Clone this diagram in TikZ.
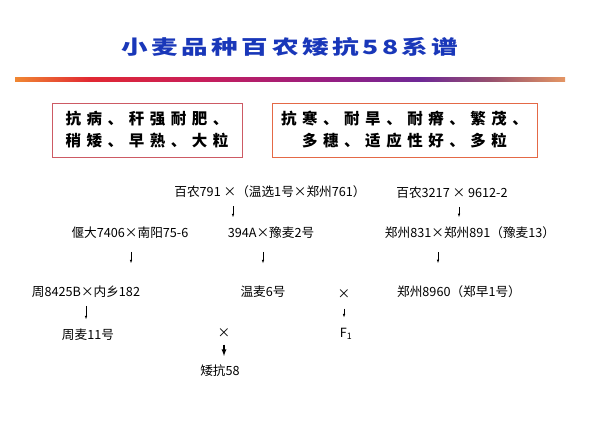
\documentclass[tikz,border=0pt]{standalone}
\usepackage{fontspec}
\setmainfont{Noto Sans CJK SC}
\newfontfamily\titlefont[FakeStretch=1.35,LetterSpace=18]{Noto Sans CJK SC}
\newfontfamily\boxfont[LetterSpace=36]{Noto Sans CJK SC}
\usepackage{tikz}
\usetikzlibrary{positioning}
\definecolor{titleblue}{RGB}{25,55,185}
\definecolor{boxred}{RGB}{205,90,100}
\definecolor{boxorange}{RGB}{228,105,70}
\definecolor{barA}{RGB}{240,135,50}
\definecolor{barB}{RGB}{225,40,50}
\definecolor{barC}{RGB}{200,30,90}
\definecolor{barD}{RGB}{150,30,130}
\definecolor{barE}{RGB}{110,40,150}
\definecolor{barF}{RGB}{150,80,110}
\definecolor{barG}{RGB}{228,150,100}
\pgfdeclarehorizontalshading{titlebar}{100bp}{color(0bp)=(barA); color(25bp)=(barA); color(31.8bp)=(barB); color(41.8bp)=(barC); color(53.6bp)=(barD); color(61.8bp)=(barE); color(68.2bp)=(barF); color(75bp)=(barG); color(100bp)=(barG)}
\tikzset{cult/.style={inner sep=0pt,font=\fontsize{18pt}{20pt}\selectfont},
trait/.style={draw,line width=1pt,inner sep=0pt,font=\boxfont\bfseries\fontsize{22pt}{31.3pt}\selectfont,align=center,minimum height=2.7cm},
descent/.style={-latex,line width=0.6pt,shorten <=0.4cm,shorten >=0.5cm},
descent long/.style={descent,shorten <=0.65cm,shorten >=1.15cm}}

\begin{document}
\begin{tikzpicture}
\useasboundingbox (0,0) rectangle (30,21.45);
\node[inner sep=0pt,text=titleblue,font=\titlefont\bfseries\fontsize{28pt}{30pt}\selectfont] (title) at (14.5,19.12) {小麦品种百农矮抗58系谱};
\shade[shading=titlebar] (0.75,17.35) rectangle (28.25,17.55);
\node[trait,draw=boxred,minimum width=9.5cm] (traitL) at (7.35,14.95) {抗病、秆强耐肥、\\稍矮、早熟、大粒};
\node[trait,draw=boxorange,minimum width=13.25cm] (traitR) at (20.225,14.95) {抗寒、耐旱、耐瘠、繁茂、\\多穗、适应性好、多粒};
% pedigree
\node[cult] (bn791) at (13.5,11.85) {百农791 ×（温选1号×郑州761）};
\node[cult] (bn3217) at (22.6,11.8) {百农3217 × 9612-2};
\node[cult] (yd7406) at (6.5,9.8) {偃大7406×南阳75-6};
\node[cult] (y394) at (13.55,9.8) {394A×豫麦2号};
\node[cult] (zz831) at (23.5,9.8) {郑州831×郑州891（豫麦13）};
\node[cult] (z8425) at (4.3,6.85) {周8425B×内乡182};
\node[cult] (wm6) at (13.15,6.85) {温麦6号};
\node[cult] (cross2) at (17.2,6.75) {×};
\node[cult] (zz8960) at (22.95,6.85) {郑州8960（郑早1号）};
\node[cult] (zm11) at (4.4,4.7) {周麦11号};
\node[cult] (cross1) at (11.2,4.8) {×};
\node[cult] (f1) at (17.3,4.75) {F\textsubscript{1}};
\node[cult] (ak58) at (11.0,2.9) {矮抗58};
% arrow columns
\coordinate (c1) at (11.65,0);
\coordinate (c2) at (6.55,0);
\coordinate (c3) at (13.15,0);
\coordinate (c4) at (4.3,0);
\coordinate (c5) at (11.2,0);
\coordinate (c6) at (17.2,0);
\coordinate (c7) at (22.95,0);
\coordinate (c8) at (21.9,0);
\draw[descent] (bn791.south -| c1) -- (y394.north -| c1);
\draw[descent long] (yd7406.south -| c2) -- (z8425.north -| c2);
\draw[descent long] (y394.south -| c3) -- (wm6.north -| c3);
\draw[descent] (z8425.south -| c4) -- (zm11.north -| c4);
\draw[descent,shorten <=0.5cm,shorten >=0.55cm] (cross2.south -| c6) -- (f1.north -| c6);
\draw[descent] (bn3217.south -| c7) -- (zz831.north -| c7);
\draw[descent long] (zz831.south -| c8) -- (zz8960.north -| c8);
\draw[-latex,line width=2.2pt,shorten <=0.35cm,shorten >=0.45cm] (cross1.south -| c5) -- (ak58.north -| c5);
\end{tikzpicture}
\end{document}
